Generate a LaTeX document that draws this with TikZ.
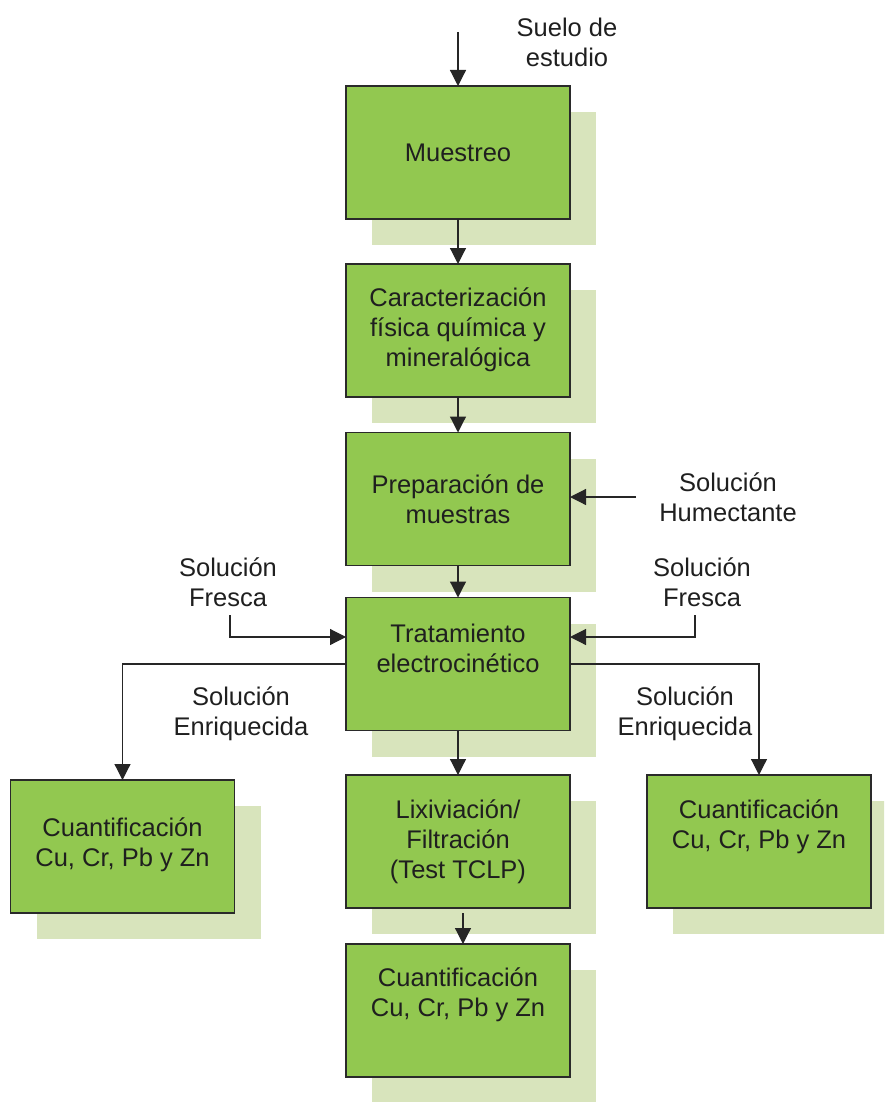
\documentclass[tikz,border=0pt]{standalone}
\usepackage{fontspec}
\setmainfont{Liberation Sans}
\usetikzlibrary{arrows.meta}
\definecolor{boxgreen}{HTML}{92C850}
\definecolor{shadowgreen}{HTML}{D8E4BC}
\definecolor{edge}{HTML}{2A2A2A}
\tikzset{
  stagebox/.style={draw=edge, line width=1.4pt, fill=boxgreen, minimum width=224pt,
    minimum height=133pt, inner sep=0pt, outer sep=0pt},
  shadowbox/.style={fill=shadowgreen, draw=none, minimum width=224pt,
    minimum height=133pt, inner sep=0pt, outer sep=0pt},
  txt/.style={align=center, font=\fontsize{25.5}{30}\selectfont, text=black!88, inner sep=0pt},
  flow/.style={draw=black!85, line width=1.2pt, -{Triangle[length=16pt,width=16pt]}},
  feed/.style={draw=black!85, line width=1.2pt}
}
\begin{document}
\begin{tikzpicture}[x=1pt,y=-1pt]
\useasboundingbox (0,0) rectangle (884,1102);
\begin{scope}
\clip (0,0) rectangle (884,1102);
% shadows
\foreach \cx/\cy in {458/152.5, 458/330.5, 458/499, 458/664, 458/841.5, 458/1010.5, 122.5/846.5, 759/841.5}
  \node[shadowbox] at (\cx+26,\cy+26) {};
\end{scope}
% process boxes
\node[stagebox] (muestreo) at (458,152.5) {};
\node[stagebox] (caract) at (458,330.5) {};
\node[stagebox] (prep) at (458,499) {};
\node[stagebox] (trat) at (458,664) {};
\node[stagebox] (lix) at (458,841.5) {};
\node[stagebox] (cuantB) at (458,1010.5) {};
\node[stagebox] (cuantL) at (122.5,846.5) {};
\node[stagebox] (cuantR) at (759,841.5) {};
% box texts
\node[txt] at (458,152.5) {Muestreo};
\node[txt] at (458,330) {Caracterización\\física química y\\mineralógica};
\node[txt] at (458,499) {Preparación de\\muestras};
\node[txt] at (458,648.5) {Tratamiento\\electrocinético};
\node[txt] at (458,842) {Lixiviación/\\Filtración\\(Test TCLP)};
\node[txt] at (458,995) {Cuantificación\\Cu, Cr, Pb y Zn};
\node[txt] at (122.5,845) {Cuantificación\\Cu, Cr, Pb y Zn};
\node[txt] at (759,827) {Cuantificación\\Cu, Cr, Pb y Zn};
% free labels
\node[txt] (suelo) at (567,42) {Suelo de\\estudio};
\node[txt] (humect) at (728,497) {Solución\\Humectante};
\node[txt] (frescaL) at (228,582) {Solución\\Fresca};
\node[txt] (frescaR) at (702,582) {Solución\\Fresca};
\node[txt] (enriqL) at (241,714) {Solución\\Enriquecida};
\node[txt] (enriqR) at (685,714) {Solución\\Enriquecida};
% free ends
\coordinate (inTop) at (458,32);
\coordinate (inHum) at (636,497);
\coordinate (fL) at (230,615);
\coordinate (fR) at (695,615);
% main flow
\draw[flow] (inTop) -- (muestreo.north);
\draw[flow] (muestreo.south) -- (caract.north);
\draw[flow] (caract.south) -- (prep.north);
\draw[flow] (prep.south) -- (trat.north);
\draw[flow] (trat.south) -- (lix.north);
\draw[flow] ([xshift=5pt,yshift=-5pt]lix.south) -- ([xshift=5pt]cuantB.north);
% inputs
\draw[flow] (inHum) -- (prep.east |- inHum);
\draw[flow] (fL) |- (trat.west |- 0,637);
\draw[flow] (fR) |- (trat.east |- 0,637);
% outputs
\draw[flow] (trat.west |- 0,664) -| (cuantL.north);
\draw[flow] (trat.east |- 0,664) -| (cuantR.north);
\end{tikzpicture}
\end{document}
